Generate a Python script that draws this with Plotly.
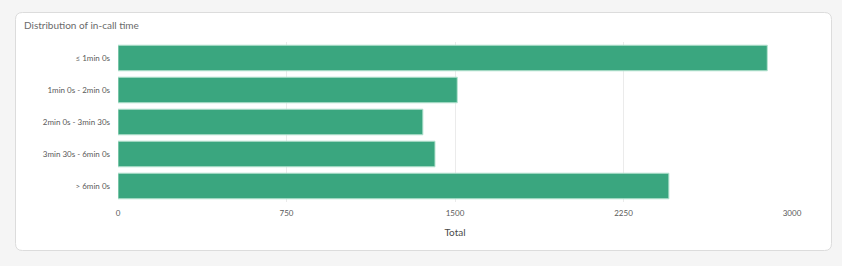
import plotly.graph_objects as go

categories = ["≤ 1min 0s", "1min 0s - 2min 0s", "2min 0s - 3min 30s", "3min 30s - 6min 0s", "> 6min 0s"]
totals = [2890, 1510, 1357, 1411, 2452]
x_ticks = [0, 750, 1500, 2250, 3000]
title_text = "Distribution of in-call time"
x_title = "Total"

W, H = 842, 266
L, R, T, B = 118, 50, 42, 64
pw = W - L - R
ph = H - T - B

def px_x(p):
    return (p - L) / pw

def px_y(p):
    return (H - B - p) / ph

fig = go.Figure()
fig.add_trace(go.Bar(
    y=categories, x=totals, orientation="h",
    marker=dict(color="#3aa67f", line=dict(color="#b5e3d0", width=1)),
    hoverinfo="x+y",
))

# rounded card
x0, x1, y0, y1, r = 15.5, 831.5, 12.5, 250.5, 7
path = (
    f"M {px_x(x0 + r)},{px_y(y0)} L {px_x(x1 - r)},{px_y(y0)} "
    f"Q {px_x(x1)},{px_y(y0)} {px_x(x1)},{px_y(y0 + r)} "
    f"L {px_x(x1)},{px_y(y1 - r)} Q {px_x(x1)},{px_y(y1)} {px_x(x1 - r)},{px_y(y1)} "
    f"L {px_x(x0 + r)},{px_y(y1)} Q {px_x(x0)},{px_y(y1)} {px_x(x0)},{px_y(y1 - r)} "
    f"L {px_x(x0)},{px_y(y0 + r)} Q {px_x(x0)},{px_y(y0)} {px_x(x0 + r)},{px_y(y0)} Z"
)
fig.add_shape(type="path", path=path, xref="paper", yref="paper",
              fillcolor="white", line=dict(color="#dcdcdc", width=1), layer="below")

fig.add_annotation(text=title_text, xref="paper", yref="paper",
                   x=px_x(22), y=px_y(25), xanchor="left", yanchor="middle",
                   showarrow=False, font=dict(size=10, color="#6a6a6a"))

fig.update_layout(
    width=W, height=H,
    margin=dict(l=L, r=R, t=T, b=B, pad=0),
    paper_bgcolor="#f5f5f5", plot_bgcolor="rgba(0,0,0,0)",
    font=dict(family="Lato, Inter, sans-serif", color="#5a5a5a", size=8),
    bargap=0.2, showlegend=False,
    xaxis=dict(range=[0, 3000], tickvals=x_ticks, ticktext=[str(v) for v in x_ticks],
               showgrid=True, gridcolor="#ebebeb", gridwidth=1, zeroline=False,
               showline=False, ticks="", tickfont=dict(size=8, color="#5a5a5a"),
               ticklabelstandoff=5,
               title=dict(text=x_title, font=dict(size=10, color="#4a4a4a"), standoff=11)),
    yaxis=dict(autorange="reversed", showgrid=False, zeroline=False, showline=False,
               ticks="", tickfont=dict(size=8, color="#5a5a5a"), ticklabelstandoff=7),
)

fig.write_html("out.html")
